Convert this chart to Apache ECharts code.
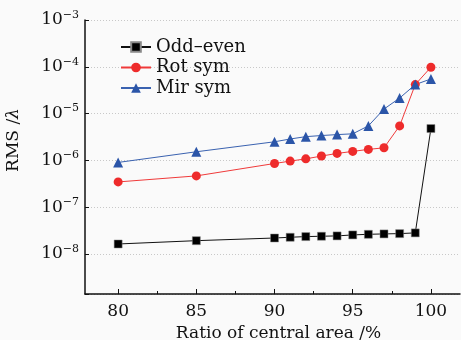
<!DOCTYPE html>
<html><head><meta charset="utf-8">
<script src="https://cdn.jsdelivr.net/npm/echarts@6/dist/echarts.min.js"></script>
<style>html,body{margin:0;padding:0;background:#fafafa;}#c{width:461px;height:340px;}</style>
</head><body><div id="c"></div>
<script>
var categories = [80, 85, 90, 91, 92, 93, 94, 95, 96, 97, 98, 99, 100];
var oddEven = [1.64e-8, 1.93e-8, 2.2e-8, 2.28e-8, 2.36e-8, 2.4e-8, 2.44e-8, 2.56e-8, 2.64e-8, 2.69e-8, 2.73e-8, 2.83e-8, 4.8e-6];
var rotSym = [3.47e-7, 4.67e-7, 8.6e-7, 9.66e-7, 1.08e-6, 1.24e-6, 1.41e-6, 1.56e-6, 1.72e-6, 1.86e-6, 5.47e-6, 4.17e-5, 9.8e-5];
var mirSym = [9.06e-7, 1.53e-6, 2.5e-6, 2.87e-6, 3.22e-6, 3.4e-6, 3.56e-6, 3.7e-6, 5.47e-6, 1.25e-5, 2.15e-5, 4.17e-5, 5.5e-5];
var seriesNames = ['Odd–even', 'Rot sym', 'Mir sym'];
var xMajorTicks = [80, 85, 90, 95, 100];
var xMinorTicks = [82.5, 87.5, 92.5, 97.5];
var yTickExponents = [-8, -7, -6, -5, -4, -3];

var FONT = 'DejaVu Serif';
function pairs(arr) { return categories.map(function (x, i) { return [x, arr[i]]; }); }
var chart = echarts.init(document.getElementById('c'));
var xMin = 77.88, xMax = 101.86;
chart.setOption({
  backgroundColor: '#fafafa',
  animation: false,
  grid: { left: 85, right: 1, top: 20, bottom: 46, show: false, borderWidth: 0, outerBoundsMode: 'none', containLabel: false },
  legend: {
    left: 115, top: 33, orient: 'vertical', itemWidth: 30, itemHeight: 12, itemGap: 2.5,
    textStyle: { fontFamily: FONT, fontSize: 18, color: '#111' },
    data: seriesNames
  },
  xAxis: [{
    type: 'value', min: xMin, max: xMax,
    name: 'Ratio of central area /%', nameLocation: 'middle', nameGap: 29,
    nameTextStyle: { fontFamily: FONT, fontSize: 17, color: '#111', padding: [0, 0, 0, 12] },
    axisLine: { lineStyle: { color: '#111', width: 1.5 } },
    axisTick: { inside: true, length: 3, customValues: xMinorTicks, lineStyle: { color: '#111' } },
    axisLabel: { customValues: xMajorTicks, fontFamily: FONT, fontSize: 17, color: '#111', margin: 9 },
    splitLine: { show: false }
  }, {
    type: 'value', min: xMin, max: xMax, position: 'bottom',
    axisLine: { show: false },
    axisTick: { inside: true, length: 5, customValues: xMajorTicks, lineStyle: { color: '#111' } },
    axisLabel: { show: false }, splitLine: { show: false }
  }],
  yAxis: {
    type: 'log', logBase: 10, min: 1.4e-9, max: 1e-3,
    name: '{a|RMS /}{i|λ}', nameLocation: 'middle', nameGap: 63,
    nameTextStyle: {
      fontFamily: FONT, fontSize: 17, color: '#111', padding: [0, 0, 0, 34],
      rich: {
        a: { fontFamily: FONT, fontSize: 17, color: '#111' },
        i: { fontFamily: FONT, fontSize: 17, fontStyle: 'italic', color: '#111' }
      }
    },
    axisLine: { show: true, lineStyle: { color: '#111', width: 1.5 } },
    axisTick: { inside: true, length: 4, lineStyle: { color: '#111' } },
    axisLabel: {
      fontFamily: FONT, margin: 6, color: '#111',
      customValues: yTickExponents.map(function (e) { return Math.pow(10, e); }),
      formatter: function (v) {
        var e = Math.round(Math.log10(v));
        if (Math.abs(Math.log10(v) - e) > 1e-6) return '';
        return '{b|10}{s|−' + Math.abs(e) + '}';
      },
      rich: {
        b: { fontFamily: FONT, fontSize: 17, color: '#111' },
        s: { fontFamily: FONT, fontSize: 11, color: '#111', padding: [0, 0, 10, 0] }
      }
    },
    splitLine: { show: true, lineStyle: { color: '#c8c8c8', type: [1, 2], width: 1 } }
  },
  series: [{
    name: seriesNames[0], type: 'line', data: pairs(oddEven),
    symbol: 'rect', symbolSize: 8, color: '#000',
    lineStyle: { color: '#111', width: 1 },
    itemStyle: { color: '#000', borderColor: '#888', borderWidth: 0.5 }
  }, {
    name: seriesNames[1], type: 'line', data: pairs(rotSym),
    symbol: 'circle', symbolSize: 9, color: '#ee2b2b',
    lineStyle: { color: '#f03a3a', width: 1 },
    itemStyle: { color: '#ee2b2b' }
  }, {
    name: seriesNames[2], type: 'line', data: pairs(mirSym),
    symbol: 'triangle', symbolSize: 10, color: '#2b55a8',
    lineStyle: { color: '#3a62b0', width: 1 },
    itemStyle: { color: '#2b55a8' }
  }]
});
</script></body></html>
